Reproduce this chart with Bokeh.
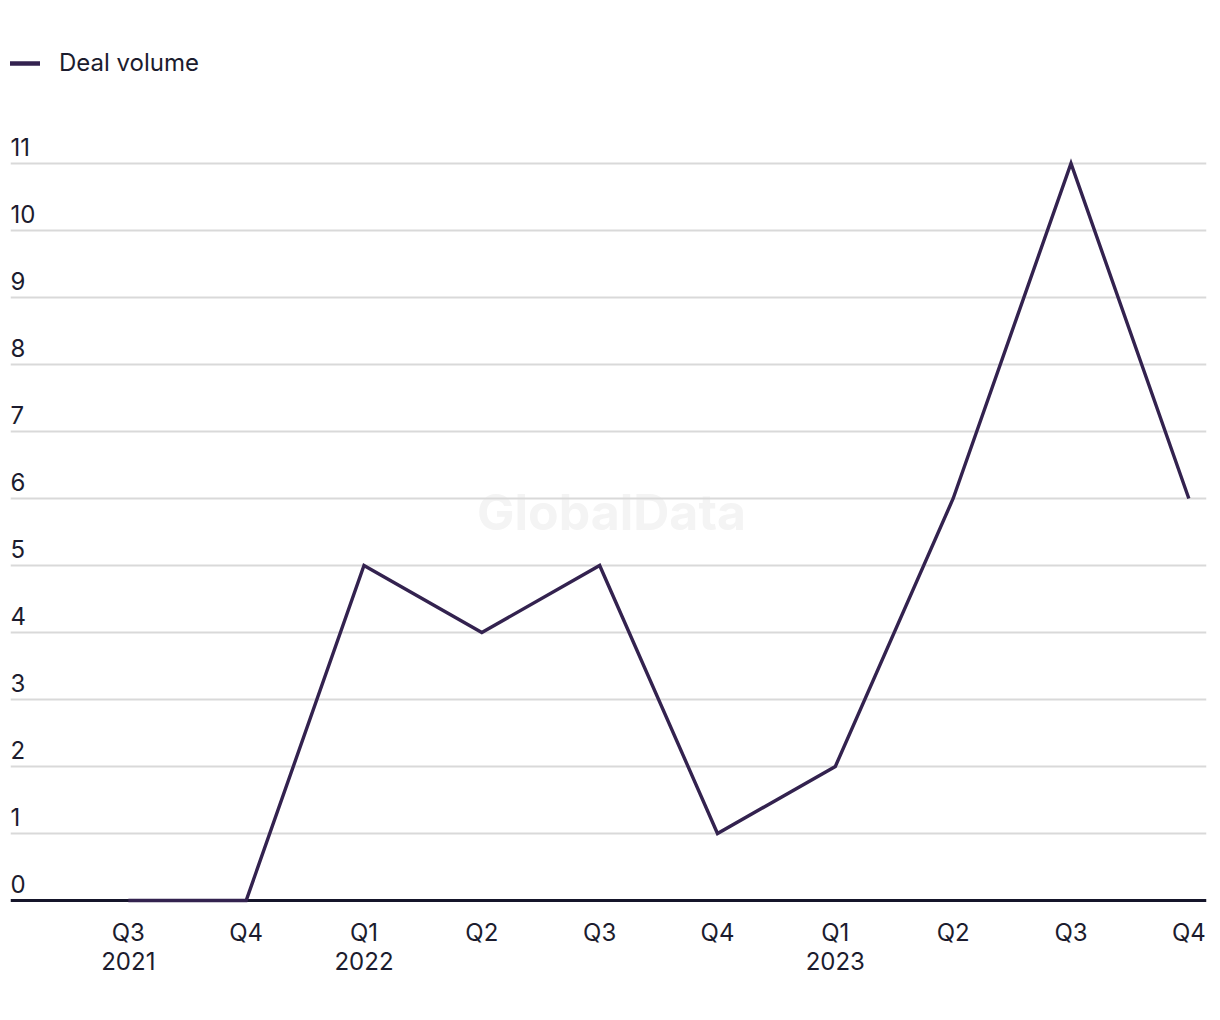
from bokeh.plotting import figure
from bokeh.models import Range1d, FixedTicker, Legend, LegendItem, ColumnDataSource, Span
from bokeh.core.properties import value
from bokeh.embed import file_html
from bokeh.resources import INLINE

quarters = ["Q3\n2021", "Q4", "Q1\n2022", "Q2", "Q3", "Q4", "Q1\n2023", "Q2", "Q3", "Q4"]
deal_volume = [0, 0, 5, 4, 5, 1, 2, 6, 11, 6]
y_ticks = [0, 1, 2, 3, 4, 5, 6, 7, 8, 9, 10, 11]

FONT = "Inter"
TEXT = "#1c1c2e"
LINE = "#33224f"

xs = list(range(len(quarters)))

p = figure(width=1212, height=1008, output_backend="svg", toolbar_location=None,
           x_range=Range1d(-1.0, 9.15), y_range=Range1d(-0.06, 12.716),
           min_border_left=10, min_border_right=6, min_border_top=48, min_border_bottom=104)
p.outline_line_color = None
p.background_fill_color = "white"
p.border_fill_color = "white"

p.yaxis.visible = False
p.xgrid.visible = False
p.ygrid.ticker = FixedTicker(ticks=y_ticks[1:])
p.ygrid.grid_line_color = "#d9d9d9"
p.ygrid.grid_line_width = 2

p.xaxis.ticker = FixedTicker(ticks=xs)
p.xaxis.major_label_overrides = {i: q for i, q in enumerate(quarters)}
p.xaxis.major_tick_line_color = None
p.xaxis.minor_tick_line_color = None
p.xaxis.axis_line_color = None
p.xaxis.major_label_standoff = 7
p.xaxis.major_label_text_font = FONT
p.xaxis.major_label_text_font_size = "24px"
p.xaxis.major_label_text_color = TEXT
p.xaxis.major_label_text_line_height = 1.02

# baseline under the data line
p.add_layout(Span(location=0, dimension="width", line_color="#15152a", line_width=3, level="underlay"))

# watermark
p.text(x=[4.1], y=[5.8], text=["GlobalData"], text_align="center", text_baseline="middle",
       text_font=value("Inter"), text_font_style="bold", text_font_size="50px",
       text_color="#f4f4f4", level="image")

# y labels above gridlines
ysrc = ColumnDataSource(dict(x=[-1.0] * len(y_ticks), y=y_ticks, t=[str(v) for v in y_ticks]))
p.text(x="x", y="y", text="t", source=ysrc, text_align="left", text_baseline="bottom",
       y_offset=-7, text_font=value(FONT), text_font_size="24px", text_color=TEXT)

p.line(xs, deal_volume, line_color=LINE, line_width=3.4, line_join="miter")

# legend swatch (thicker, rounded like the reference); its data lies off-screen
swatch = p.line(x=[-5, -5], y=[-5, -5], line_color=LINE, line_width=4.5, line_cap="round")

legend = Legend(items=[LegendItem(label="Deal volume", renderers=[swatch])], location="top_left",
                margin=0, padding=0, border_line_color=None, background_fill_alpha=0,
                glyph_width=30, glyph_height=28, label_height=28, label_standoff=19,
                label_text_font=FONT, label_text_font_size="24px", label_text_color=TEXT)
p.add_layout(legend)

open("out.html", "w").write(file_html(p, INLINE))
